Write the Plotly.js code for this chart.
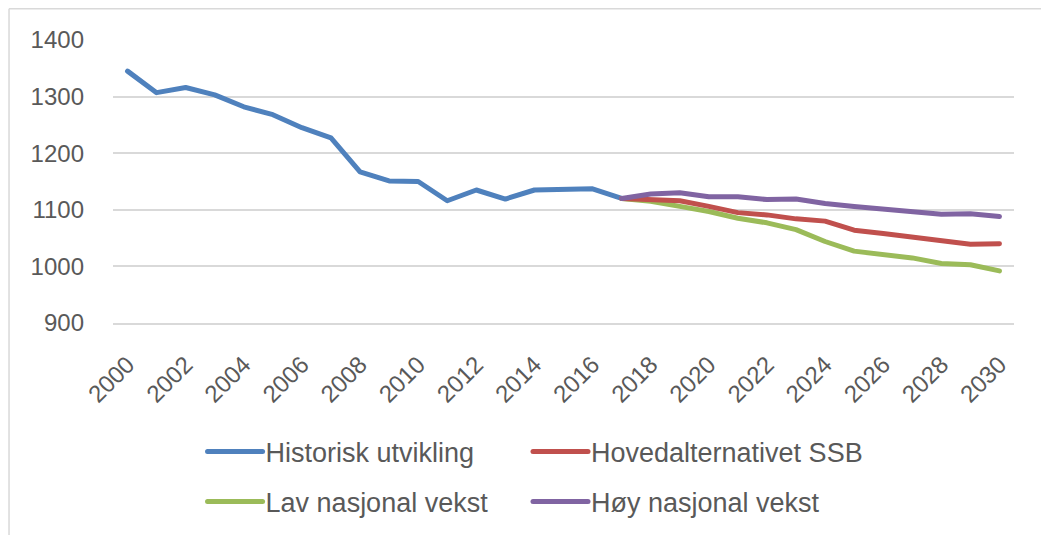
<!DOCTYPE html>
<html>
<head>
<meta charset="utf-8">
<script src="https://cdn.plot.ly/plotly-3.0.1.min.js"></script>
<style>
html,body{margin:0;padding:0;background:#fff;}
#chart{width:1041px;height:535px;}
.js-line{stroke-linecap:round;stroke-linejoin:round;}
.legendlines path{d:path("M5,0h55");stroke-linecap:round;}
</style>
</head>
<body>
<div id="chart"></div>
<script>
// Data
const histYears = [2000,2001,2002,2003,2004,2005,2006,2007,2008,2009,2010,2011,2012,2013,2014,2015,2016,2017];
const histValues = [1345,1307,1316,1303,1282,1268,1245,1227,1167,1151,1150,1116,1135,1119,1135,1137,1137,1120];

const projYears = [2017,2018,2019,2020,2021,2022,2023,2024,2025,2026,2027,2028,2029,2030];
const hovedValues = [1120,1119,1116,1106,1095,1091,1084,1080,1064,1058,1052,1044,1039,1040];
const lavValues   = [1120,1115,1106,1097,1085,1077,1065,1044,1027,1021,1015,1005,1003,992];
const hoyValues   = [1120,1128,1130,1123,1123,1118,1119,1111,1106,1101,1097,1092,1093,1088];

const seriesNames = ["Historisk utvikling","Hovedalternativet SSB","Lav nasjonal vekst","Høy nasjonal vekst"];
const xTickVals = [2000,2002,2004,2006,2008,2010,2012,2014,2016,2018,2020,2022,2024,2026,2028,2030];
const yTickVals = [900,1000,1100,1200,1300,1400];

const colors = ["#4F81BD","#C0504D","#9BBB59","#8064A2"];
const FONT = '"Liberation Sans", Arial, sans-serif';

const traces = [
  {x: histYears, y: histValues, name: seriesNames[0], legend: 'legend'},
  {x: projYears, y: hovedValues, name: seriesNames[1], legend: 'legend2'},
  {x: projYears, y: lavValues, name: seriesNames[2], legend: 'legend3'},
  {x: projYears, y: hoyValues, name: seriesNames[3], legend: 'legend4'}
].map((t,i)=>Object.assign(t,{type:'scatter',mode:'lines',line:{color:colors[i],width:5},hoverinfo:'x+y+name'}));

// draw order: hist, lav, hoved, hoy (purple on top)
const ordered = [traces[0], traces[2], traces[1], traces[3]];

function legendAt(x, y) {
  return {
    x:x, y:y, orientation:'h', xanchor:'left', yanchor:'middle',
    font:{family:FONT,size:27,color:'#595959'},
    bgcolor:'rgba(0,0,0,0)', itemwidth:53
  };
}

const layout = {
  width:1041, height:535,
  margin:{l:113,r:27,t:40,b:212,autoexpand:false},
  paper_bgcolor:'#fff', plot_bgcolor:'#fff',
  showlegend:true,
  xaxis:{
    range:[1999.5,2030.5], tickvals:xTickVals, ticktext:xTickVals.map(String),
    tickangle:-45, showgrid:false, zeroline:false,
    showline:true, linecolor:'#D9D9D9', linewidth:2,
    ticks:'', ticklabelstandoff:16,
    tickfont:{family:FONT,size:24,color:'#595959'}
  },
  yaxis:{
    range:[900,1400], tickvals:yTickVals, ticktext:yTickVals.map(String),
    showgrid:true, gridcolor:'#D9D9D9', gridwidth:2, zeroline:false,
    showline:false, ticks:'', ticklabelstandoff:28,
    tickfont:{family:FONT,size:24,color:'#595959'}
  },
  legend:legendAt(0.0994,-0.456),
  legend2:legendAt(0.4606,-0.456),
  legend3:legendAt(0.0994,-0.632),
  legend4:legendAt(0.4606,-0.632),
  shapes:[
    {type:'line',xref:'paper',yref:'paper',x0:-0.1154,x1:-0.1154,y0:1.11,y1:-0.76,line:{color:'#D9D9D9',width:1.5}},
    {type:'line',xref:'paper',yref:'paper',x0:-0.1154,x1:1.04,y0:1.11,y1:1.11,line:{color:'#D9D9D9',width:1.5}}
  ]
};

Plotly.newPlot('chart', ordered, layout, {displayModeBar:false, staticPlot:true});
</script>
</body>
</html>
